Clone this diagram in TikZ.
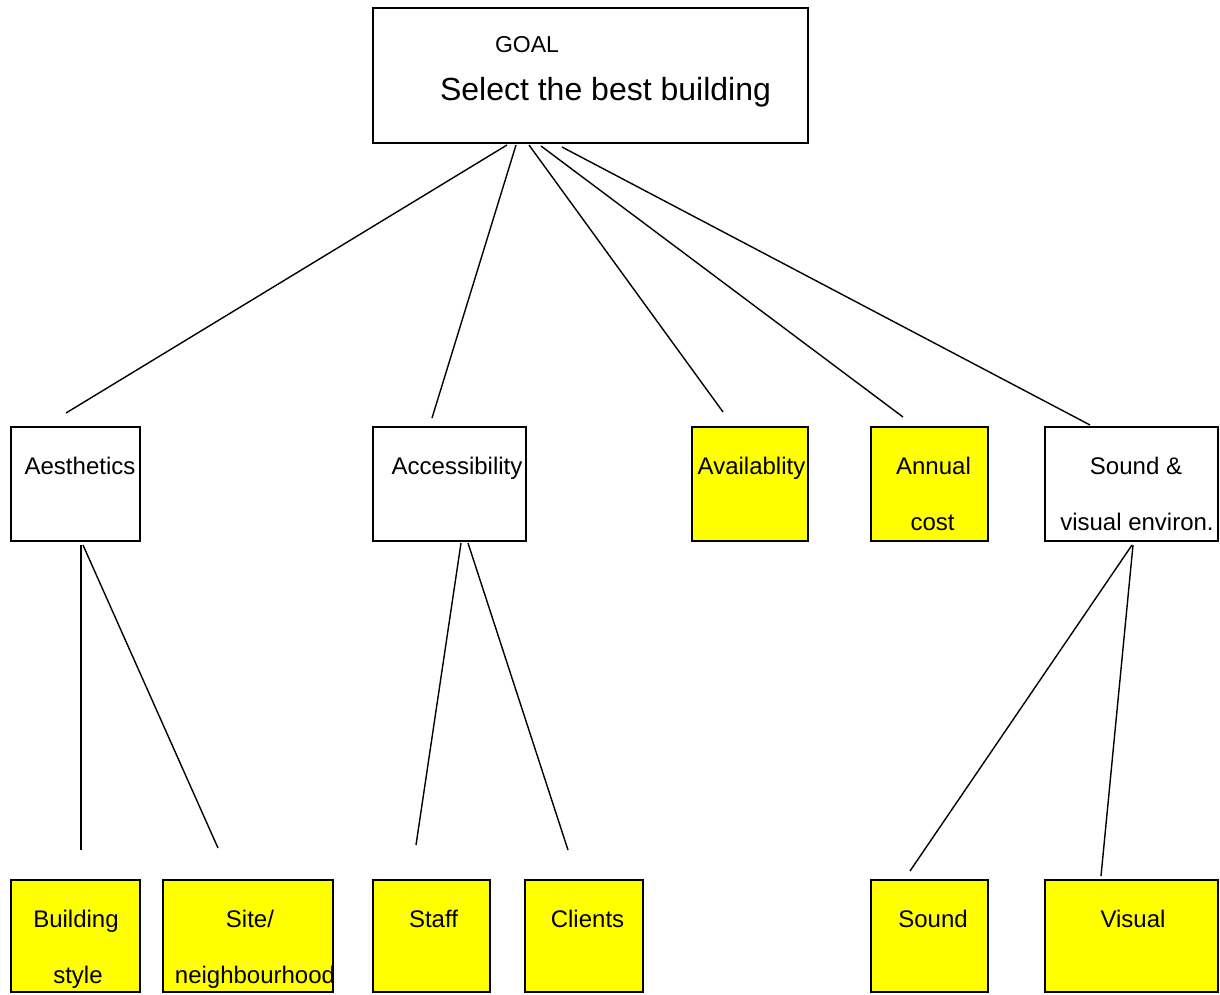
\documentclass[tikz,border=0pt]{standalone}
\usepackage{fontspec}
\setmainfont{Liberation Sans}
\definecolor{boxyellow}{RGB}{255,255,0}
\begin{document}
\begin{tikzpicture}[x=1pt,y=-1pt,
  box/.style={draw=black,line width=2.6pt,inner sep=0pt,outer sep=0pt},
  leaf/.style={box,fill=boxyellow},
  lbl/.style={anchor=base,inner sep=0pt,font=\fontsize{24}{28}\selectfont},
  conn/.style={line width=1.4pt}]
\useasboundingbox (0,0) rectangle (1220,994);
% boxes
\node[box,minimum width=435pt,minimum height=135pt] (goal) at (590.5,75.5) {};
\node[box,minimum width=129pt,minimum height=114pt] (aes) at (75.5,484) {};
\node[box,minimum width=153pt,minimum height=114pt] (acc) at (449.5,484) {};
\node[leaf,minimum width=116pt,minimum height=114pt] (avail) at (750,484) {};
\node[leaf,minimum width=117pt,minimum height=114pt] (annual) at (929.5,484) {};
\node[box,minimum width=173pt,minimum height=114pt] (sve) at (1131.5,484) {};
\node[leaf,minimum width=129pt,minimum height=112pt] (bstyle) at (75.5,936) {};
\node[leaf,minimum width=170pt,minimum height=112pt] (site) at (248,936) {};
\node[leaf,minimum width=117pt,minimum height=112pt] (staff) at (431.5,936) {};
\node[leaf,minimum width=118pt,minimum height=112pt] (clients) at (584,936) {};
\node[leaf,minimum width=117pt,minimum height=112pt] (sound) at (929.5,936) {};
\node[leaf,minimum width=173pt,minimum height=112pt] (visual) at (1131.5,936) {};
% texts
\node[lbl,font=\fontsize{23}{27}\selectfont] (tgoal) at (527,52) {GOAL};
\node[lbl,font=\fontsize{32}{38}\selectfont] (tsel) at (605.5,100) {Select the best building};
\node[lbl] (taes) at (80,474) {Aesthetics};
\node[lbl] (tacc) at (457,474) {Accessibility};
\node[lbl] (tavail) at (751.5,474) {Availablity};
\node[lbl] (tann1) at (933.5,474) {Annual};
\node[lbl] (tann2) at (932.5,530) {cost};
\node[lbl] (tsve1) at (1136,474) {Sound \&};
\node[lbl] (tsve2) at (1137,530) {visual environ.};
\node[lbl] (tb1) at (76,927) {Building};
\node[lbl] (tb2) at (78,983) {style};
\node[lbl] (ts1) at (250,927) {Site/};
\node[lbl] (ts2) at (255,983) {neighbourhood};
\node[lbl] (tst) at (433.5,927) {Staff};
\node[lbl] (tcl) at (587.5,927) {Clients};
\node[lbl] (tso) at (933,927) {Sound};
\node[lbl] (tvi) at (1133,927) {Visual};
% connector end points
\coordinate (g1) at (507,145); \coordinate (e1) at (66,413);
\coordinate (g2) at (516,145); \coordinate (e2) at (432,418);
\coordinate (g3) at (529,145); \coordinate (e3) at (723,412);
\coordinate (g4) at (541,146); \coordinate (e4) at (903,417);
\coordinate (g5) at (562,147); \coordinate (e5) at (1090,425);
\coordinate (a1) at (81,545); \coordinate (f1) at (81,850);
\coordinate (a2) at (83,545); \coordinate (f2) at (218,848);
\coordinate (c1) at (461,543); \coordinate (f3) at (416,845);
\coordinate (c2) at (468,543); \coordinate (f4) at (568,850);
\coordinate (s1) at (1132,545); \coordinate (f5) at (910,871);
\coordinate (s2) at (1133,545); \coordinate (f6) at (1101,876);
\draw[conn] (g1) -- (e1);
\draw[conn] (g2) -- (e2);
\draw[conn] (g3) -- (e3);
\draw[conn] (g4) -- (e4);
\draw[conn] (g5) -- (e5);
\draw[conn] (a1) -- (f1);
\draw[conn] (a2) -- (f2);
\draw[conn] (c1) -- (f3);
\draw[conn] (c2) -- (f4);
\draw[conn] (s1) -- (f5);
\draw[conn] (s2) -- (f6);
\end{tikzpicture}
\end{document}
